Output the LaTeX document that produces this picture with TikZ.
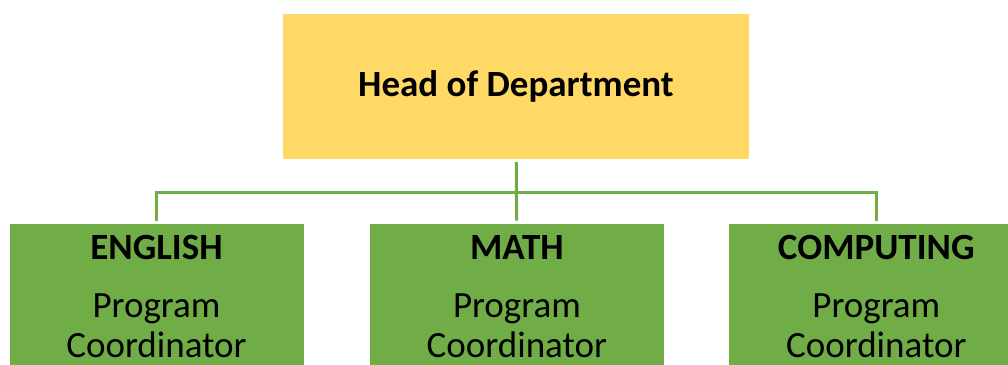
\documentclass[tikz,border=0pt]{standalone}
\usepackage{fontspec}
\setmainfont{Carlito}
\usetikzlibrary{positioning}
\definecolor{headyellow}{HTML}{FFD966}
\definecolor{deptgreen}{HTML}{70AD47}
\tikzset{
  orgchart/.style={
    x=1pt, y=-1pt,
    head/.style={
        fill=headyellow,
        minimum width=466pt,
        minimum height=145pt,
        inner sep=0pt,
        font=\fontsize{37}{42}\selectfont\bfseries,
    },
    dept/.style={
        fill=deptgreen,
        anchor=north,
        minimum width=294pt,
        text width=270pt,
        align=center,
        inner xsep=12pt,
        inner ysep=12pt,
        font=\fontsize{37}{40}\selectfont,
    },
    link/.style={
        draw=deptgreen,
        line width=3pt,
        shorten <=3pt,
        shorten >=3pt,
    },
  }
}

\begin{document}
\begin{tikzpicture}[orgchart]
        \useasboundingbox (0,0) rectangle (1008,364);
        \node[head] (head) at (516,86.5) {Head of Department};
        \node[dept] (english) at (156.5,223.5)
            {\textbf{ENGLISH}\\[18pt]Program\\Coordinator};
        \node[dept, right=66pt of english] (math)
            {\textbf{MATH}\\[18pt]Program\\Coordinator};
        \node[dept, right=65pt of math] (computing)
            {\textbf{COMPUTING}\\[18pt]Program\\Coordinator};
        \coordinate (bus) at (516,192);
        \draw[link] (head) -- (math);
        \draw[link] (english.north) |- (bus) -| (computing.north);
\end{tikzpicture}
\end{document}
